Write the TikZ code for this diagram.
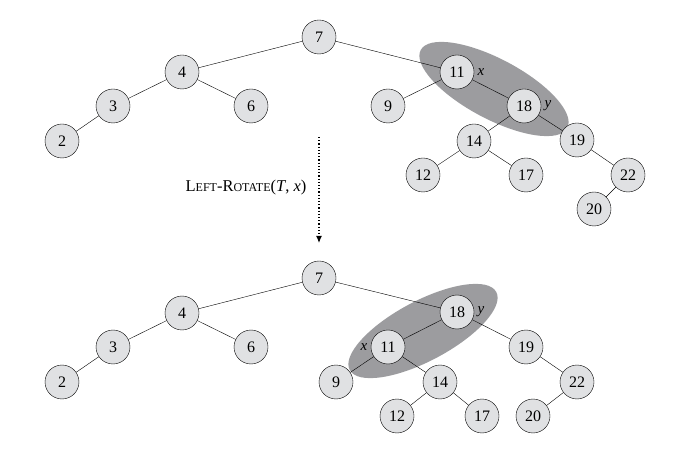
\documentclass[tikz,border=0pt]{standalone}
\usepackage{fontspec}
\setmainfont{Liberation Serif}
\usetikzlibrary{arrows.meta, shapes.geometric, positioning}
\definecolor{keyFill}{RGB}{224,225,227}
\definecolor{rotGray}{RGB}{156,156,159}
\newcommand{\fakesc}[2]{#1{\fontsize{12}{14}\selectfont #2}}

\begin{document}
\begin{tikzpicture}[
    x=1pt, y=-1pt,
    key/.style={circle, draw, fill=keyFill, minimum size=34pt, inner sep=0pt, font=\fontsize{16}{18}\selectfont},
    tag/.style={font=\fontsize{15}{17}\selectfont\itshape},
    pair/.style={ellipse, fill=rotGray, minimum width=166pt, minimum height=60pt},
    >=Latex
]
\useasboundingbox (0,0) rectangle (691,462);

% highlighted pairs
\node[pair, rotate=-28] (hiTop) at (494,89) {};
\node[pair, rotate=28] (hiBot) at (423,331) {};

% before rotation
\node[key] (a7) at (319,37) {7};
\node[key] (a4) at (182,72) {4};
\node[key] (a3) at (113,106) {3};
\node[key] (a6) at (251,106) {6};
\node[key] (a2) at (62,141) {2};
\node[key] (a11) at (457,72) {11};
\node[key] (a9) at (388,106) {9};
\node[key] (a18) at (524,106) {18};
\node[key] (a14) at (474,141) {14};
\node[key] (a19) at (577,140) {19};
\node[key] (a12) at (423,175) {12};
\node[key] (a17) at (526,175) {17};
\node[key] (a22) at (628,175) {22};
\node[key] (a20) at (594,209) {20};
\node[tag, right=0pt of a11] (ax) {x};
\node[tag, right=0pt of a18] (ay) {y};

\draw (a7) -- (a4);
\draw (a7) -- (a11);
\draw (a4) -- (a3);
\draw (a4) -- (a6);
\draw (a3) -- (a2);
\draw (a11) -- (a9);
\draw (a11) -- (a18);
\draw (a18) -- (a14);
\draw (a18) -- (a19);
\draw (a14) -- (a12);
\draw (a14) -- (a17);
\draw (a19) -- (a22);
\draw (a22) -- (a20);

% rotation step
\coordinate (stepTop) at (319,137);
\coordinate (stepBot) at (319,243);
\draw[dotted, line width=1.2pt, -{Latex[length=7pt, width=6pt]}] (stepTop) -- (stepBot);
\node[font=\fontsize{16.5}{18}\selectfont] (stepLbl) at (246,188) {\fakesc{L}{EFT}-\fakesc{R}{OTATE}(\textit{T}, \textit{x})};

% after rotation
\node[key] (b7) at (319,278) {7};
\node[key] (b4) at (182,313) {4};
\node[key] (b3) at (113,347) {3};
\node[key] (b6) at (251,347) {6};
\node[key] (b2) at (62,382) {2};
\node[key] (b18) at (457,312) {18};
\node[key] (b11) at (388,347) {11};
\node[key] (b9) at (336,382) {9};
\node[key] (b14) at (440,382) {14};
\node[key] (b19) at (526,347) {19};
\node[key] (b12) at (397,416) {12};
\node[key] (b17) at (482,416) {17};
\node[key] (b22) at (577,382) {22};
\node[key] (b20) at (533,416) {20};
\node[tag, right=0pt of b18] (by) {y};
\node[tag, left=0pt of b11] (bx) {x};

\draw (b7) -- (b4);
\draw (b7) -- (b18);
\draw (b4) -- (b3);
\draw (b4) -- (b6);
\draw (b3) -- (b2);
\draw (b18) -- (b11);
\draw (b18) -- (b19);
\draw (b11) -- (b9);
\draw (b11) -- (b14);
\draw (b14) -- (b12);
\draw (b14) -- (b17);
\draw (b19) -- (b22);
\draw (b22) -- (b20);
\end{tikzpicture}
\end{document}
